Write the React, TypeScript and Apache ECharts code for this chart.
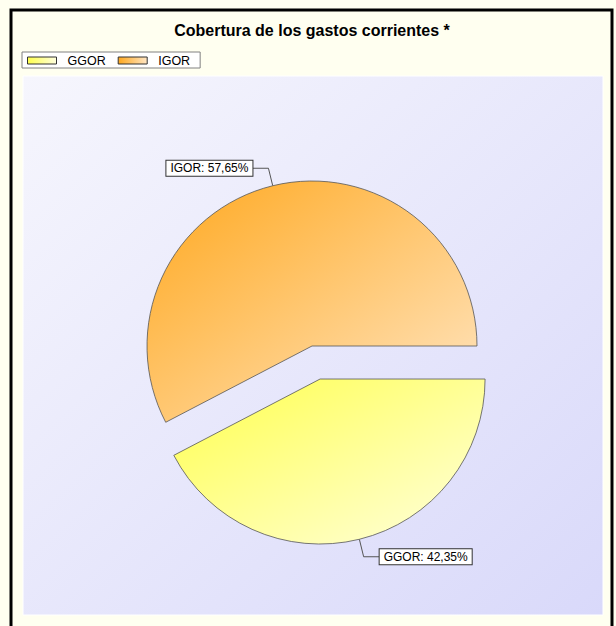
import React, { useEffect, useRef } from "react";
import * as echarts from "echarts";

const TITLE = "Cobertura de los gastos corrientes *";
const categories = ["GGOR", "IGOR"];
const values = [42.35, 57.65];
const selectedFlags = [true, false];
const gradStart = ["#ffff4d", "#ffa81e"];
const gradEnd = ["#ffffde", "#ffe6c4"];

const FONT = "'Liberation Sans', Arial, sans-serif";

export default function App() {
  const ref = useRef<HTMLDivElement>(null);
  useEffect(() => {
    if (!ref.current) return;
    const chart = echarts.init(ref.current, null, { renderer: "svg" });
    const lin = (a: string, b: string) =>
      new echarts.graphic.LinearGradient(0, 0, 1, 1, [
        { offset: 0, color: a },
        { offset: 1, color: b },
      ]);
    const linH = (a: string, b: string) =>
      new echarts.graphic.LinearGradient(0, 0, 1, 0, [
        { offset: 0, color: a },
        { offset: 1, color: b },
      ]);
    const data = categories.map((name, i) => ({
      name,
      value: values[i],
      selected: selectedFlags[i],
      itemStyle: { color: lin(gradStart[i], gradEnd[i]) },
    }));
    chart.setOption({
      animation: false,
      backgroundColor: "#fffff0",
      title: {
        text: TITLE,
        left: 312,
        top: 22,
        textAlign: "center",
        padding: 0,
        textStyle: { fontFamily: FONT, fontSize: 16, fontWeight: "bold", color: "#000" },
      },
      legend: {
        left: 22,
        top: 52,
        orient: "horizontal",
        padding: [2, 10, 1, 5],
        itemGap: 12,
        itemWidth: 29,
        itemHeight: 7,
        icon: "rect",
        backgroundColor: "#ffffff",
        borderColor: "#808080",
        borderWidth: 1,
        borderRadius: 0,
        selectedMode: false,
        data: categories.map((name, i) => ({
          name,
          itemStyle: { color: linH(gradStart[i], gradEnd[i]), borderColor: "#333", borderWidth: 1 },
        })),
        textStyle: { fontFamily: FONT, fontSize: 12.5, color: "#000", padding: [0, 0, 0, 6] },
      },
      graphic: [
        {
          type: "rect",
          silent: true,
          z: -10,
          shape: { x: 11, y: 10, width: 601, height: 640 },
          style: { fill: "#fffff0", stroke: "#000", lineWidth: 3 },
        },
        {
          type: "rect",
          silent: true,
          z: -5,
          shape: { x: 23, y: 76, width: 580, height: 539 },
          style: {
            fill: new echarts.graphic.LinearGradient(0, 0, 1, 1, [
              { offset: 0, color: "#f6f6fd" },
              { offset: 1, color: "#d9d9fa" },
            ]),
            stroke: "#ffffff",
            lineWidth: 1,
          },
        },
      ],
      series: [
        {
          type: "pie",
          center: [312, 346],
          radius: 165,
          startAngle: 0,
          clockwise: true,
          selectedMode: "single",
          selectedOffset: 34,
          avoidLabelOverlap: false,
          emphasis: { disabled: true },
          select: { itemStyle: { borderColor: "#555", borderWidth: 0.8 } },
          itemStyle: { borderColor: "#555", borderWidth: 0.8 },
          label: {
            show: true,
            position: "outside",
            distanceToLabelLine: 0,
            formatter: (p: any) => `${p.name}: ${p.percent.toFixed(2).replace(".", ",")}%`,
            fontFamily: FONT,
            fontSize: 12,
            color: "#000",
            backgroundColor: "#ffffff",
            borderColor: "#333",
            borderWidth: 1,
            padding: [2, 4, 1, 4],
          },
          labelLine: {
            show: true,
            length: 18,
            length2: 16,
            smooth: false,
            lineStyle: { color: "#555", width: 1 },
          },
          data,
        },
      ],
    });
    return () => chart.dispose();
  }, []);
  return (
    <div
      ref={ref}
      style={{ position: "absolute", left: 0, top: 0, width: 616, height: 626 }}
    />
  );
}
